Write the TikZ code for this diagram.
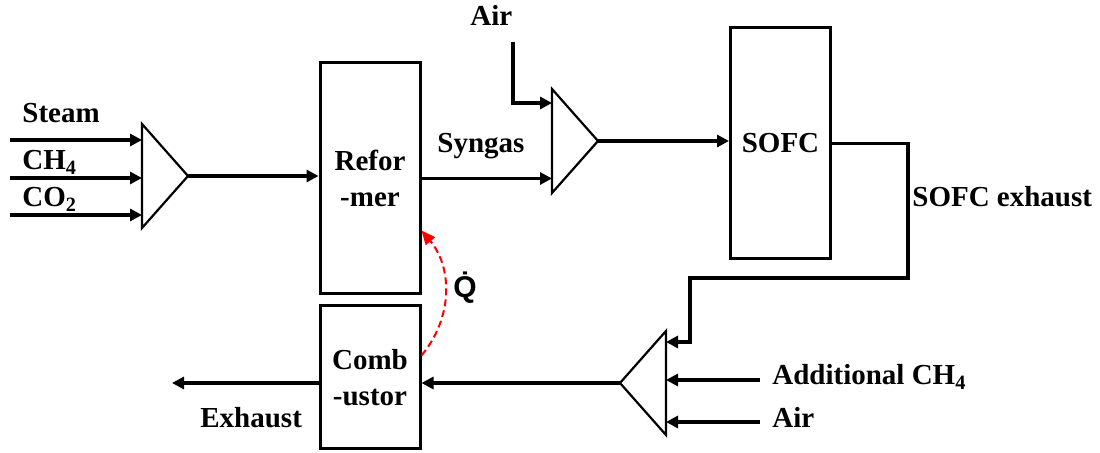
\documentclass[tikz,border=0pt]{standalone}
\usepackage{fontspec}
\setmainfont{Liberation Serif}
\newfontfamily\sansq{Liberation Sans}
\usetikzlibrary{shapes.geometric,arrows.meta,positioning}

\begin{document}
\begin{tikzpicture}[x=0.5pt,y=-0.5pt,
  font=\fontsize{14.5}{18}\selectfont\bfseries,
  unit/.style={draw,line width=1.5pt,minimum width=50pt,align=center,inner sep=0pt},
  mixer/.style={draw,line width=1.1pt,isosceles triangle,isosceles triangle stretches,
    minimum width=52pt,minimum height=23pt,inner sep=0pt,outer sep=0pt},
  flow/.style={line width=1.6pt,-{Triangle[length=6pt,width=6pt]}},
  heat/.style={red,line width=1pt,dash pattern=on 3.5pt off 2pt,-{Triangle[length=7pt,width=6pt]}},
  lbl/.style={inner sep=0pt,anchor=base west}]
\useasboundingbox (0,0) rectangle (1100,453);

\node[unit,minimum height=115.5pt] (ref) at (370,178.5) {Refor\\-mer};
\node[unit,minimum height=115.5pt] (sofc) at (780.5,143.5) {SOFC};
\node[unit,minimum height=71.5pt] (comb) at (370,377.5) {Comb\\-ustor};

\node[mixer,anchor=apex] (mixA) at (188,176) {};
\node[mixer,anchor=apex] (mixB) at (598,141) {};
\node[mixer,anchor=apex,shape border rotate=180] (mixC) at (620,383) {};

\coordinate (steam) at (10,140);
\coordinate (ch4) at (10,178);
\coordinate (co2) at (10,215);
\foreach \c in {steam,ch4,co2}
  \draw[flow] (\c) -- (\c -| mixA.west);
\draw[flow] (mixA.apex) -- (mixA.apex -| ref.west);
\draw[flow] (ref.east) -- (ref.east -| mixB.west);

\coordinate (airtop) at (513,42);
\draw[flow] (airtop) |- ([yshift=19pt]mixB.west);
\draw[flow] (mixB.apex) -- (mixB.apex -| sofc.west);

\coordinate (bendA) at (908,278);
\coordinate (bendB) at (690,342);
\draw[flow] (sofc.east) -| (bendA) -| (bendB) -- (bendB -| mixC.east);

\coordinate (addch4) at (760,380);
\coordinate (airbot) at (760,422);
\foreach \c in {addch4,airbot}
  \draw[flow] (\c) -- (\c -| mixC.east);
\draw[flow] (mixC.apex) -- (mixC.apex -| comb.east);

\coordinate (exh) at (172,383);
\draw[flow] (comb.west |- mixC.apex) -- (exh);

\draw[heat] ([yshift=11pt]comb.east) to[bend right=40] ([yshift=-26pt]ref.east);

\node[lbl] (lsteam) at (22,123) {Steam};
\node[lbl] (lch4) at (22,170) {CH\textsubscript{4}};
\node[lbl] (lco2) at (22,207) {CO\textsubscript{2}};
\node[lbl] (lsyngas) at (437,153) {Syngas};
\node[lbl] (lairtop) at (470,26) {Air};
\node[lbl] (lsofcexh) at (912,207) {SOFC exhaust};
\node[lbl] (laddch4) at (772,385) {Additional CH\textsubscript{4}};
\node[lbl] (lairbot) at (772,428) {Air};
\node[lbl] (lexh) at (200,428) {Exhaust};
\node[lbl,font=\sansq\fontsize{15}{18}\selectfont\bfseries] (lheat) at (453,298) {\.{Q}};
\end{tikzpicture}
\end{document}
